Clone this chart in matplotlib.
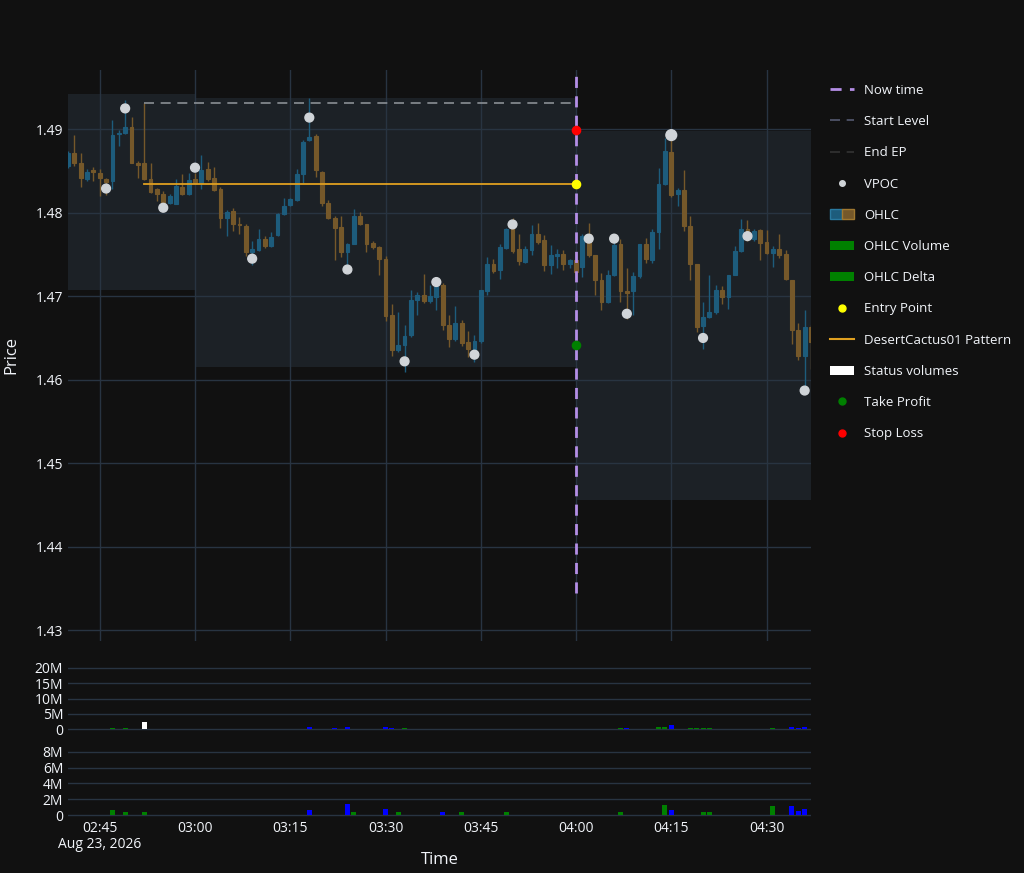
import matplotlib.pyplot as plt
import numpy as np
from matplotlib.patches import Rectangle, Patch
from matplotlib.lines import Line2D
from matplotlib.legend_handler import HandlerTuple

plt.rcParams['font.family'] = ['Open Sans', 'DejaVu Sans']

# one-minute candles starting 02:40 (index 0)
opens = [1.4856, 1.4871, 1.4860, 1.4841, 1.4851, 1.4848, 1.4841, 1.4838, 1.4894, 1.4895,
         1.4903, 1.4859, 1.4859, 1.4841, 1.4828, 1.4823, 1.4812, 1.4811, 1.4831, 1.4822,
         1.4840, 1.4836, 1.4852, 1.4842, 1.4828, 1.4794, 1.4802, 1.4787, 1.4784, 1.4753,
         1.4755, 1.4768, 1.4760, 1.4773, 1.4798, 1.4809, 1.4815, 1.4847, 1.4887, 1.4892,
         1.4849, 1.4812, 1.4794, 1.4783, 1.4753, 1.4763, 1.4796, 1.4786, 1.4764, 1.4759,
         1.4745, 1.4677, 1.4635, 1.4642, 1.4653, 1.4695, 1.4702, 1.4694, 1.4699, 1.4713,
         1.4666, 1.4649, 1.4668, 1.4645, 1.4636, 1.4646, 1.4706, 1.4739, 1.4731, 1.4758,
         1.4780, 1.4757, 1.4741, 1.4755, 1.4775, 1.4767, 1.4737, 1.4748, 1.4750, 1.4739,
         1.4743, 1.4735, 1.4774, 1.4749, 1.4719, 1.4693, 1.4726, 1.4763, 1.4706, 1.4706,
         1.4724, 1.4763, 1.4743, 1.4777, 1.4834, 1.4873, 1.4822, 1.4827, 1.4784, 1.4739,
         1.4664, 1.4675, 1.4681, 1.4707, 1.4699, 1.4726, 1.4754, 1.4780, 1.4769, 1.4779,
         1.4765, 1.4752, 1.4757, 1.4750, 1.4720, 1.4660, 1.4629, 1.4663]
closes = [1.4872, 1.4859, 1.4842, 1.4849, 1.4849, 1.4842, 1.4837, 1.4893, 1.4896, 1.4903,
          1.4860, 1.4857, 1.4840, 1.4825, 1.4822, 1.4807, 1.4820, 1.4832, 1.4823, 1.4839,
          1.4836, 1.4851, 1.4840, 1.4827, 1.4794, 1.4801, 1.4786, 1.4785, 1.4753, 1.4757,
          1.4769, 1.4760, 1.4771, 1.4799, 1.4808, 1.4816, 1.4846, 1.4885, 1.4891, 1.4851,
          1.4812, 1.4794, 1.4782, 1.4753, 1.4763, 1.4796, 1.4786, 1.4763, 1.4759, 1.4744,
          1.4676, 1.4635, 1.4642, 1.4652, 1.4696, 1.4701, 1.4694, 1.4700, 1.4712, 1.4665,
          1.4649, 1.4668, 1.4644, 1.4637, 1.4646, 1.4708, 1.4739, 1.4730, 1.4759, 1.4780,
          1.4754, 1.4742, 1.4756, 1.4775, 1.4765, 1.4737, 1.4749, 1.4751, 1.4739, 1.4743,
          1.4729, 1.4772, 1.4749, 1.4719, 1.4693, 1.4726, 1.4761, 1.4706, 1.4704, 1.4724,
          1.4763, 1.4744, 1.4777, 1.4835, 1.4874, 1.4821, 1.4827, 1.4784, 1.4739, 1.4663,
          1.4675, 1.4681, 1.4707, 1.4699, 1.4726, 1.4754, 1.4780, 1.4769, 1.4778, 1.4764,
          1.4752, 1.4757, 1.4749, 1.4721, 1.4660, 1.4629, 1.4663, 1.4645]
highs = [1.4874, 1.4893, 1.4872, 1.4852, 1.4855, 1.4852, 1.4842, 1.4911, 1.4899, 1.4935,
         1.4915, 1.4862, 1.4931, 1.4860, 1.4830, 1.4826, 1.4823, 1.4841, 1.4847, 1.4848,
         1.4848, 1.4869, 1.4861, 1.4855, 1.4831, 1.4803, 1.4806, 1.4795, 1.4786, 1.4766,
         1.4780, 1.4772, 1.4777, 1.4800, 1.4818, 1.4818, 1.4852, 1.4887, 1.4937, 1.4894,
         1.4850, 1.4815, 1.4796, 1.4796, 1.4764, 1.4804, 1.4801, 1.4787, 1.4766, 1.4760,
         1.4748, 1.4691, 1.4681, 1.4666, 1.4708, 1.4705, 1.4727, 1.4713, 1.4717, 1.4716,
         1.4677, 1.4688, 1.4671, 1.4658, 1.4654, 1.4708, 1.4747, 1.4745, 1.4762, 1.4782,
         1.4794, 1.4775, 1.4760, 1.4785, 1.4788, 1.4773, 1.4761, 1.4757, 1.4755, 1.4744,
         1.4745, 1.4774, 1.4788, 1.4749, 1.4728, 1.4731, 1.4774, 1.4768, 1.4734, 1.4729,
         1.4763, 1.4770, 1.4780, 1.4854, 1.4889, 1.4893, 1.4830, 1.4851, 1.4796, 1.4739,
         1.4693, 1.4725, 1.4714, 1.4712, 1.4726, 1.4760, 1.4792, 1.4791, 1.4780, 1.4781,
         1.4779, 1.4760, 1.4775, 1.4755, 1.4720, 1.4668, 1.4683, 1.4665]
lows = [1.4854, 1.4856, 1.4831, 1.4838, 1.4838, 1.4820, 1.4821, 1.4829, 1.4880, 1.4894,
        1.4859, 1.4842, 1.4839, 1.4824, 1.4814, 1.4802, 1.4810, 1.4810, 1.4821, 1.4821,
        1.4834, 1.4828, 1.4838, 1.4826, 1.4782, 1.4772, 1.4778, 1.4775, 1.4748, 1.4737,
        1.4754, 1.4758, 1.4759, 1.4772, 1.4797, 1.4808, 1.4814, 1.4836, 1.4886, 1.4843,
        1.4808, 1.4793, 1.4743, 1.4747, 1.4730, 1.4762, 1.4785, 1.4753, 1.4757, 1.4726,
        1.4670, 1.4628, 1.4633, 1.4609, 1.4651, 1.4677, 1.4692, 1.4692, 1.4683, 1.4659,
        1.4639, 1.4646, 1.4640, 1.4627, 1.4621, 1.4644, 1.4702, 1.4728, 1.4721, 1.4757,
        1.4752, 1.4737, 1.4740, 1.4749, 1.4762, 1.4730, 1.4727, 1.4734, 1.4731, 1.4734,
        1.4727, 1.4723, 1.4747, 1.4702, 1.4683, 1.4692, 1.4724, 1.4693, 1.4673, 1.4678,
        1.4722, 1.4740, 1.4740, 1.4756, 1.4833, 1.4819, 1.4808, 1.4778, 1.4719, 1.4657,
        1.4637, 1.4674, 1.4679, 1.4691, 1.4685, 1.4725, 1.4753, 1.4766, 1.4766, 1.4743,
        1.4750, 1.4735, 1.4746, 1.4719, 1.4643, 1.4624, 1.4586, 1.4613]

vpoc_idx = [6, 9, 15, 20, 29, 38, 44, 53, 58, 64, 70, 82, 86, 88, 95, 100, 107, 116]
vpoc_price = [1.4829, 1.4925, 1.4806, 1.4854, 1.4745, 1.4914, 1.4732, 1.4622, 1.4717, 1.4630,
              1.4786, 1.4769, 1.4769, 1.4679, 1.4893, 1.4650, 1.4772, 1.4587]

# shaded zones: (start idx, end idx, low, high)
zones = [(0, 20, 1.4707, 1.4942), (20, 80, 1.4615, 1.4938), (80, 117, 1.4456, 1.4898)]

pattern_start = 12
now_idx = 80
start_level = 1.4932
entry_price = 1.4834
stop_loss = 1.4899
take_profit = 1.4641

vol_idx = [7, 9, 38, 42, 44, 50, 51, 53, 87, 88, 93, 94, 95, 98, 99, 100, 101, 111, 114, 115, 116]
vol_vals = [0.3, 0.3, 0.7, 0.5, 0.6, 0.6, 0.5, 0.5, 0.5, 0.5, 0.6, 0.6, 1.3, 0.5, 0.4, 0.4, 0.4, 0.5, 0.8, 0.5, 0.6]
vol_cols = ['g', 'g', 'b', 'b', 'b', 'b', 'b', 'g', 'g', 'b', 'g', 'g', 'b', 'g', 'g', 'g', 'g', 'g', 'b', 'b', 'b']
status_idx = [12]
status_vals = [2.4]

delta_idx = [7, 9, 12, 38, 44, 45, 50, 52, 59, 62, 69, 87, 94, 95, 100, 101, 111, 114, 115, 116]
delta_vals = [0.6, 0.4, 0.4, 0.6, 1.4, 0.4, 0.8, 0.4, 0.4, 0.4, 0.4, 0.4, 1.3, 0.6, 0.4, 0.4, 1.1, 1.1, 0.5, 0.7]
delta_cols = ['g', 'g', 'g', 'b', 'b', 'g', 'b', 'g', 'b', 'g', 'g', 'g', 'g', 'b', 'g', 'g', 'g', 'b', 'b', 'b']

tick_pos = [5, 20, 35, 50, 65, 80, 95, 110]
tick_labels = ['02:45\nAug 23, 2026', '03:00', '03:15', '03:30', '03:45', '04:00', '04:15', '04:30']

BG = '#111111'
GRID = '#283442'
TXT = '#f2f5fa'
UP = '#1d5c7c'
DOWN = '#75582a'
colmap = {'g': '#008000', 'b': '#0000ff'}

fig = plt.figure(figsize=(10.24, 8.73), dpi=100, facecolor=BG)
ax = fig.add_axes([68 / 1024, 1 - 641 / 873, (811 - 68) / 1024, (641 - 70) / 873])
axv = fig.add_axes([68 / 1024, 1 - 731 / 873, (811 - 68) / 1024, 71 / 873], sharex=ax)
axd = fig.add_axes([68 / 1024, 1 - 817 / 873, (811 - 68) / 1024, 77 / 873], sharex=ax)

for a in (ax, axv, axd):
    a.set_facecolor(BG)
    for s in a.spines.values():
        s.set_visible(False)
    a.tick_params(colors=TXT, labelsize=10, length=0)
    a.grid(True, color=GRID, lw=1)
    a.set_axisbelow(True)

x = np.arange(len(opens))
o = np.array(opens)
c = np.array(closes)
up = c >= o
cols = np.where(up, UP, DOWN)

for x0, x1, lo, hi in zones:
    ax.add_patch(Rectangle((x0, lo), x1 - x0, hi - lo, facecolor='#2a3640', alpha=0.45, lw=0, zorder=1))

ax.vlines(x, lows, highs, colors=cols, lw=1, zorder=2)
ax.bar(x, np.maximum(np.abs(c - o), 0.00005), bottom=np.minimum(o, c), width=0.6,
       color=cols, edgecolor=cols, lw=0.8, zorder=3)

ax.scatter(vpoc_idx, vpoc_price, s=[60 if i == 95 else 40 for i in vpoc_idx], color='#d0d4d8', zorder=4)

ax.plot([pattern_start, now_idx], [start_level, start_level], color='#8a8f94', lw=1.2, ls=(0, (6, 4)), zorder=3)
ax.plot([pattern_start, now_idx], [entry_price, entry_price], color='#e0a020', lw=1.3, zorder=3)
ax.plot([now_idx, now_idx], [1.4344, 1.4971], color='#b48ee6', lw=2, ls=(0, (4, 3)), zorder=4)
ax.scatter([now_idx], [entry_price], color='#ffff00', s=35, zorder=5)
ax.scatter([now_idx], [stop_loss], color='#ff0000', s=35, zorder=5)
ax.scatter([now_idx], [take_profit], color='#008000', s=35, zorder=5)

ax.set_ylim(1.4287, 1.4971)
ax.set_xlim(0, 117)
ax.set_yticks([1.43, 1.44, 1.45, 1.46, 1.47, 1.48, 1.49])
ax.set_yticklabels(['1.43', '1.44', '1.45', '1.46', '1.47', '1.48', '1.49'])
ax.set_ylabel('Price', color=TXT, fontsize=12, labelpad=12)
ax.set_xticks(tick_pos)
ax.tick_params(axis='x', labelbottom=False)

axv.bar(vol_idx, [v * 1e6 for v in vol_vals], width=0.8, color=[colmap[k] for k in vol_cols], zorder=3)
axv.bar(status_idx, [v * 1e6 for v in status_vals], width=0.8, color='white', zorder=3)
axv.set_ylim(-0.6e6, 22.6e6)
axv.set_yticks([0, 5e6, 10e6, 15e6, 20e6])
axv.set_yticklabels(['0', '5M', '10M', '15M', '20M'])
axv.tick_params(axis='x', labelbottom=False)
axv.xaxis.grid(False)

axd.bar(delta_idx, [v * 1e6 for v in delta_vals], width=0.8, color=[colmap[k] for k in delta_cols], zorder=3)
axd.set_ylim(-0.25e6, 9.5e6)
axd.set_yticks([0, 2e6, 4e6, 6e6, 8e6])
axd.set_yticklabels(['0', '2M', '4M', '6M', '8M'])
axd.xaxis.grid(False)
axd.set_xticks(tick_pos)
axd.set_xticklabels(tick_labels, ha='center', linespacing=1.1)
axd.tick_params(axis='x', pad=3)
axd.set_xlabel('Time', color=TXT, fontsize=12, labelpad=0)

handles = [
    Line2D([], [], color='#b48ee6', lw=2, ls=(0, (4, 3))),
    Line2D([], [], color='#555a70', lw=1.2, ls=(0, (6, 4))),
    Line2D([], [], color='#333333', lw=1.2, ls=(0, (6, 4))),
    Line2D([], [], color='#d0d4d8', marker='o', ls='', ms=4),
    (Patch(facecolor=UP, edgecolor='#2a7aa0'), Patch(facecolor=DOWN, edgecolor='#a07830')),
    Patch(facecolor='#008000'),
    Patch(facecolor='#008000'),
    Line2D([], [], color='#ffff00', marker='o', ls='', ms=5),
    Line2D([], [], color='#e0a020', lw=1.5),
    Patch(facecolor='white'),
    Line2D([], [], color='#008000', marker='o', ls='', ms=5),
    Line2D([], [], color='#ff0000', marker='o', ls='', ms=5),
]
labels = ['Now time', 'Start Level', 'End EP', 'VPOC', 'OHLC', 'OHLC Volume', 'OHLC Delta',
          'Entry Point', 'DesertCactus01 Pattern', 'Status volumes', 'Take Profit', 'Stop Loss']
leg = fig.legend(handles, labels, loc='upper left', bbox_to_anchor=(818 / 1024, 1 - 72 / 873),
                 frameon=False, labelcolor=TXT, fontsize=9.5, labelspacing=1.38,
                 handlelength=1.8, handler_map={tuple: HandlerTuple(ndivide=None, pad=0)})

fig.savefig('out.png', dpi=100, facecolor=BG)
